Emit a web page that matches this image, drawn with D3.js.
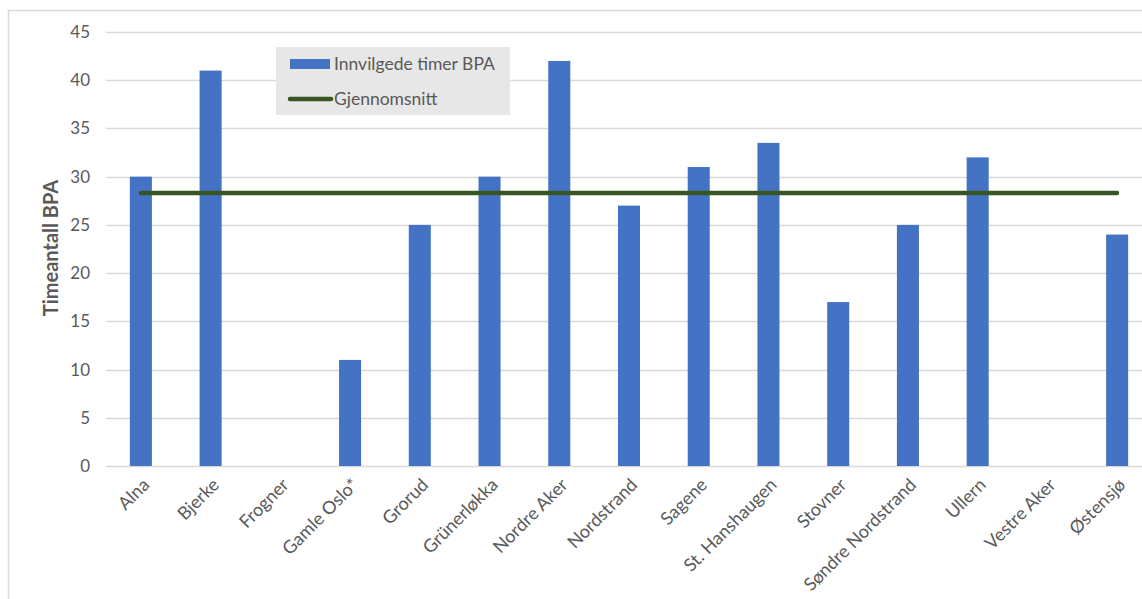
<!DOCTYPE html>
<html>
<head>
<meta charset="utf-8">
<script src="https://cdn.jsdelivr.net/npm/d3@7"></script>
<style>
  html, body { margin: 0; padding: 0; background: #fff; }
  svg { display: block; }
  text { font-family: Lato, "Open Sans", sans-serif; }
</style>
</head>
<body>
<svg id="chart" width="1142" height="599"></svg>
<script>
// Bydeler i Oslo
const categories = ["Alna", "Bjerke", "Frogner", "Gamle Oslo*", "Grorud", "Grünerløkka",
  "Nordre Aker", "Nordstrand", "Sagene", "St. Hanshaugen", "Stovner",
  "Søndre Nordstrand", "Ullern", "Vestre Aker", "Østensjø"];
// Innvilgede timer BPA per bydel
const hours = [30, 41, 0, 11, 25, 30, 42, 27, 31, 33.5, 17, 25, 32, 0, 24];
// Gjennomsnitt
const average = [28.3, 28.3, 28.3, 28.3, 28.3, 28.3, 28.3, 28.3, 28.3, 28.3, 28.3, 28.3, 28.3, 28.3, 28.3];
const yTicks = [0, 5, 10, 15, 20, 25, 30, 35, 40, 45];
const seriesNames = ["Innvilgede timer BPA", "Gjennomsnitt"];
const yTitle = "Timeantall BPA";

const svg = d3.select("#chart");
const blue = "#4472c4", green = "#375623", grid = "#d9d9d9", textCol = "#595959";
const font = "Lato, 'Open Sans', sans-serif";

// outer chart frame
svg.append("rect")
  .attr("x", 8.5).attr("y", 10.5).attr("width", 1200).attr("height", 700)
  .attr("fill", "none").attr("stroke", grid).attr("stroke-width", 1.5);

const x = d3.scaleBand().domain(categories).range([106, 1152]).paddingInner(0.684).paddingOuter(0.342);
const xc = d3.scalePoint().domain(categories).range([141, 1117]);
const y = d3.scaleLinear().domain([0, 45]).range([466, 32]);

// gridlines
svg.append("g").selectAll("line").data(yTicks).join("line")
  .attr("x1", 106).attr("x2", 1142)
  .attr("y1", d => Math.round(y(d)) + 0.5).attr("y2", d => Math.round(y(d)) + 0.5)
  .attr("stroke", grid).attr("stroke-width", 1.3);

// y axis labels
const yAxis = d3.axisLeft(y).tickValues(yTicks).tickSize(0).tickPadding(0);
svg.append("g").attr("transform", "translate(90,0)").call(yAxis)
  .call(g => g.select(".domain").remove())
  .selectAll("text").attr("font-size", 17).attr("fill", textCol)
  .attr("font-family", font);

// y title
svg.append("text")
  .attr("transform", "translate(58,248) rotate(-90)")
  .attr("text-anchor", "middle").attr("font-size", 20).attr("font-weight", "bold")
  .attr("fill", textCol).text(yTitle);

// bars
svg.append("g").selectAll("rect").data(categories).join("rect")
  .attr("x", (d) => x(d)).attr("width", x.bandwidth())
  .attr("y", (d, i) => y(hours[i])).attr("height", (d, i) => y(0) - y(hours[i]))
  .attr("fill", blue);

// average line
const line = d3.line().x((d, i) => xc(categories[i])).y(d => y(d));
svg.append("path").datum(average)
  .attr("d", line).attr("fill", "none").attr("stroke", green)
  .attr("stroke-width", 4.5).attr("stroke-linecap", "round");

// x axis labels
const xAxis = d3.axisBottom(xc).tickSize(0).tickPadding(0);
svg.append("g").attr("transform", `translate(0,${y(0)})`).call(xAxis)
  .call(g => g.select(".domain").remove())
  .selectAll("text")
  .attr("font-size", 18).attr("fill", textCol)
  .attr("font-family", font)
  .attr("text-anchor", "end").attr("dy", null).attr("y", 0)
  .attr("transform", "translate(9,20) rotate(-45)");

// legend
const lg = svg.append("g");
lg.append("rect").attr("x", 276).attr("y", 47).attr("width", 234).attr("height", 68).attr("fill", "#e7e7e7");
lg.append("rect").attr("x", 290).attr("y", 59).attr("width", 40).attr("height", 10).attr("fill", blue);
lg.append("line").attr("x1", 290).attr("x2", 331).attr("y1", 99).attr("y2", 99)
  .attr("stroke", green).attr("stroke-width", 4.5).attr("stroke-linecap", "round");
lg.append("text").attr("x", 334).attr("y", 70).attr("font-size", 17.5).attr("fill", textCol).text(seriesNames[0]);
lg.append("text").attr("x", 334).attr("y", 105).attr("font-size", 17.5).attr("fill", textCol).text(seriesNames[1]);
</script>
</body>
</html>
